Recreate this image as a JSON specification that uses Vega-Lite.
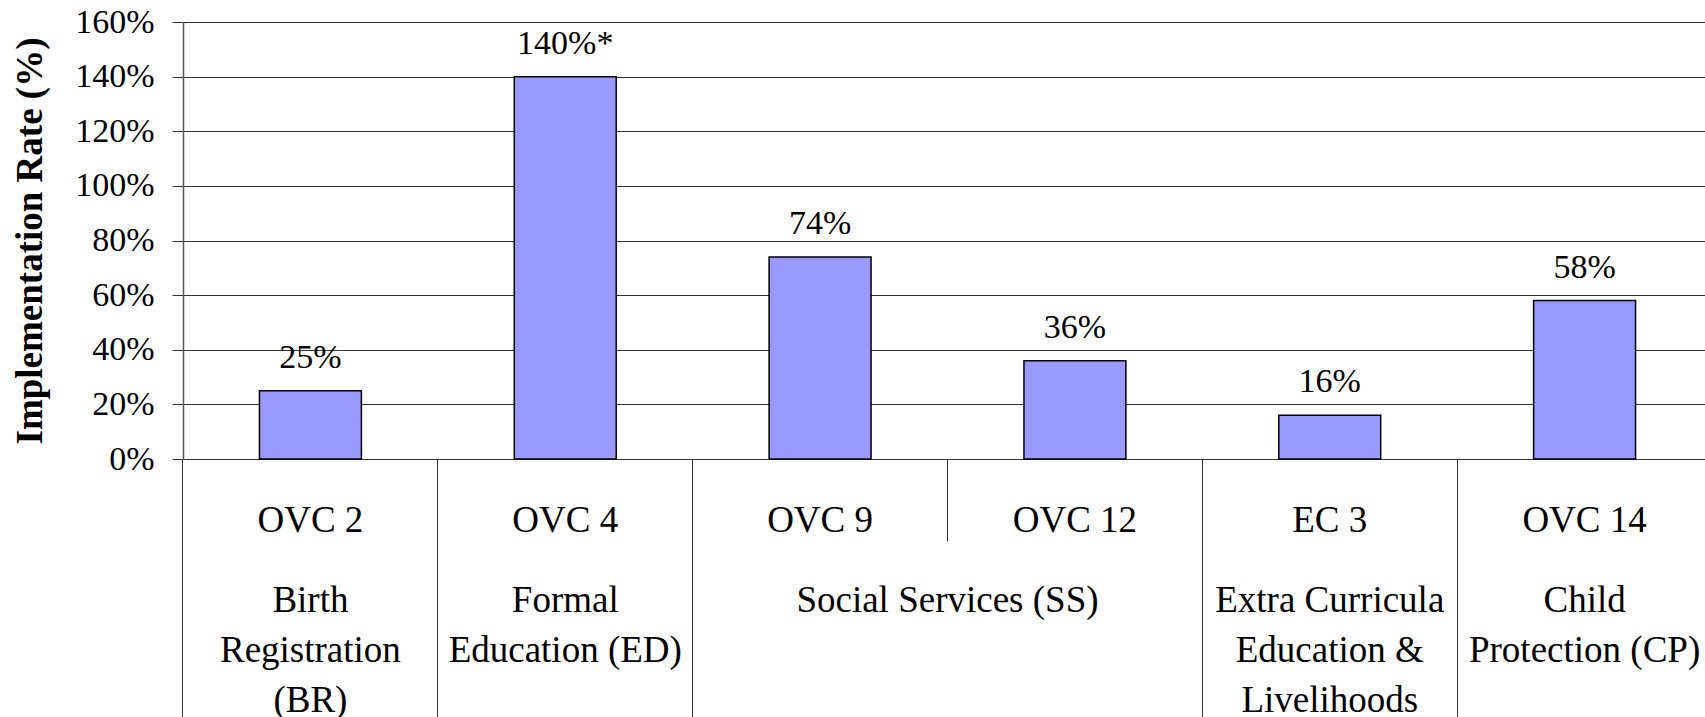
{
  "$schema": "https://vega.github.io/schema/vega-lite/v6.json",
  "autosize": {"type": "none"},
  "width": 1522,
  "height": 437,
  "padding": {"left": 183, "top": 22, "right": 0, "bottom": 258},
  "background": "white",
  "config": {"view": {"stroke": null}, "font": "Liberation Serif"},
  "data": {"values": [
    {"code": "OVC 2", "area": "Birth Registration (BR)", "rate": 0.25, "label": "25%"},
    {"code": "OVC 4", "area": "Formal Education (ED)", "rate": 1.40, "label": "140%*"},
    {"code": "OVC 9", "area": "Social Services (SS)", "rate": 0.74, "label": "74%"},
    {"code": "OVC 12", "area": "Social Services (SS)", "rate": 0.36, "label": "36%"},
    {"code": "EC 3", "area": "Extra Curricula Education & Livelihoods", "rate": 0.16, "label": "16%"},
    {"code": "OVC 14", "area": "Child Protection (CP)", "rate": 0.58, "label": "58%"}
  ]},
  "encoding": {
    "y": {
      "field": "rate", "type": "quantitative",
      "scale": {"domain": [0, 1.6], "nice": false},
      "axis": {
        "values": [0, 0.2, 0.4, 0.6, 0.8, 1.0, 1.2, 1.4, 1.6],
        "format": ".0%",
        "labelFont": "Liberation Serif", "labelFontSize": 34, "labelColor": "#000",
        "labelPadding": 18, "tickSize": 11, "tickColor": "#333", "tickWidth": 1,
        "grid": true, "gridColor": "#333", "gridWidth": 1, "gridOpacity": 1,
        "domainColor": "#555", "domainWidth": 1.5,
        "title": "Implementation Rate (%)", "titleFont": "Liberation Serif",
        "titleFontSize": 37, "titleFontWeight": "bold", "titleColor": "#000",
        "titlePadding": 25
      }
    }
  },
  "layer": [
    {
      "mark": {"type": "bar", "fill": "#9999ff", "stroke": "#000", "strokeWidth": 1.5},
      "encoding": {
        "x": {
          "field": "code", "type": "nominal", "sort": null,
          "scale": {"range": [0, 1529], "paddingInner": 0.6, "paddingOuter": 0.3},
          "axis": {
            "orient": "bottom", "title": null, "domain": false, "grid": false,
            "bandPosition": -0.75,
            "ticks": true, "tickSize": 260, "tickColor": "#333", "tickWidth": 1,
            "tickOpacity": {"condition": {"test": "datum.value === 'OVC 12'", "value": 0}, "value": 1},
            "labelExpr": "datum.value == 'OVC 2' ? ['Birth', 'Registration', '(BR)'] : datum.value == 'OVC 4' ? ['Formal', 'Education (ED)'] : datum.value == 'OVC 9' ? 'Social Services (SS)' : datum.value == 'OVC 12' ? '' : datum.value == 'EC 3' ? ['Extra Curricula', 'Education &', 'Livelihoods'] : ['Child', 'Protection (CP)']",
            "labelOffset": {"condition": {"test": "datum.value === 'OVC 9'", "value": 127.4}, "value": 0},
            "labelPadding": -108, "labelBaseline": "alphabetic", "labelAngle": 0,
            "labelFont": "Liberation Serif", "labelFontSize": 37, "labelColor": "#000",
            "labelLineHeight": 50, "labelLimit": 1000, "labelOverlap": false, "labelFlush": false
          }
        }
      }
    },
    {
      "mark": {"type": "text", "baseline": "alphabetic", "align": "center", "dy": -23, "fontSize": 34, "font": "Liberation Serif", "color": "#000"},
      "encoding": {
        "text": {"field": "label"},
        "x": {
          "field": "code", "type": "nominal", "sort": null,
          "scale": {"range": [0, 1529], "paddingInner": 0.6, "paddingOuter": 0.3},
          "axis": {
            "orient": "bottom", "title": null, "domain": false, "grid": false,
            "bandPosition": -0.75,
            "ticks": true, "tickSize": 82, "tickColor": "#333", "tickWidth": 1,
            "tickOpacity": {"condition": {"test": "datum.value === 'OVC 12'", "value": 1}, "value": 0},
            "labelPadding": -9.3, "labelBaseline": "alphabetic", "labelAngle": 0,
            "labelFont": "Liberation Serif", "labelFontSize": 37, "labelColor": "#000",
            "labelLimit": 1000, "labelOverlap": false, "labelFlush": false
          }
        }
      }
    }
  ],
  "resolve": {"axis": {"x": "independent"}}
}
